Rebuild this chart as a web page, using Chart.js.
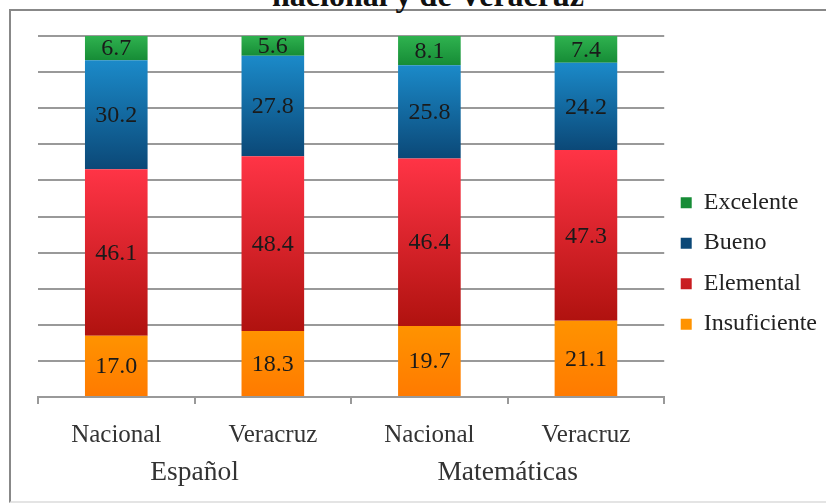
<!DOCTYPE html>
<html>
<head>
<meta charset="utf-8">
<script src="https://cdn.jsdelivr.net/npm/chart.js@4/dist/chart.umd.min.js"></script>
<style>
  html, body { margin: 0; padding: 0; background: #fff; overflow: hidden; }
  #wrap { position: relative; width: 826px; height: 504px; }
  #frame {
    position: absolute; left: 9px; top: 9px; width: 900px; height: 490px;
    border-left: 2px solid #888; border-top: 2px solid #888; border-bottom: 2px solid #e4e4e4;
  }
  #title {
    position: absolute; left: 0; width: 856px; top: -21px; text-align: center;
    font: bold 32px 'Liberation Serif', serif; line-height: 32px; color: #111;
  }
  canvas { position: absolute; left: 0; top: 0; }
</style>
</head>
<body>
<div id="wrap">
  <div id="frame"></div>
  <div id="title">nacional y de Veracruz</div>
  <canvas id="chart" width="826" height="504"></canvas>
</div>
<script>
const categories = ['Nacional', 'Veracruz', 'Nacional', 'Veracruz'];
const groups = ['Español', 'Matemáticas'];
const levels = ['Insuficiente', 'Elemental', 'Bueno', 'Excelente'];

const insuficiente = [17.0, 18.3, 19.7, 21.1];
const elemental = [46.1, 48.4, 46.4, 47.3];
const bueno = [30.2, 27.8, 25.8, 24.2];
const excelente = [6.7, 5.6, 8.1, 7.4];

const yTicks = [0, 10, 20, 30, 40, 50, 60, 70, 80, 90, 100];

// top / bottom colours of each segment gradient, plus the flat legend colour
const palette = [
    { top: '#ff9300', bottom: '#ff7a00', flat: '#ff8a00' },
    { top: '#ff3446', bottom: '#b0120f', flat: '#e0202a' },
    { top: '#1b8ac9', bottom: '#0b4877', flat: '#1568a3' },
    { top: '#2fb24f', bottom: '#168c36', flat: '#1f9e40' }
];

const seriesValues = [insuficiente, elemental, bueno, excelente];

function segmentFill(ctx) {
    const pal = palette[ctx.datasetIndex];
    if (ctx.type !== 'data') return pal.flat;
    const chart = ctx.chart;
    const y = chart.scales.y;
    if (!chart.chartArea || !y) return pal.flat;
    let start = 0;
    for (let i = 0; i < ctx.datasetIndex; i++) start += seriesValues[i][ctx.dataIndex];
    const end = start + seriesValues[ctx.datasetIndex][ctx.dataIndex];
    const yTop = y.getPixelForValue(end);
    const yBot = y.getPixelForValue(start);
    if (!isFinite(yTop) || !isFinite(yBot)) return pal.flat;
    const g = chart.ctx.createLinearGradient(0, yTop, 0, yBot);
    g.addColorStop(0, pal.top);
    g.addColorStop(1, pal.bottom);
    return g;
}

const valueLabels = {
    id: 'valueLabels',
    afterDatasetsDraw(chart) {
        const c = chart.ctx;
        c.save();
        c.font = '24px "Liberation Serif", serif';
        c.fillStyle = '#1a1a1a';
        c.textAlign = 'center';
        c.textBaseline = 'middle';
        chart.data.datasets.forEach((ds, di) => {
            const meta = chart.getDatasetMeta(di);
            meta.data.forEach((bar, i) => {
                const cy = (bar.y + bar.base) / 2;
                c.fillText(ds.data[i].toFixed(1), bar.x, cy + 1);
            });
        });
        c.restore();
    }
};

const serif = '"Liberation Serif", "Times New Roman", serif';

new Chart(document.getElementById('chart').getContext('2d'), {
    type: 'bar',
    data: {
        labels: categories,
        datasets: levels.map((name, i) => ({
            label: name,
            data: seriesValues[i],
            backgroundColor: segmentFill,
            borderWidth: 0,
            barPercentage: 0.4,
            categoryPercentage: 1.0
        }))
    },
    options: {
        responsive: false,
        animation: false,
        layout: { padding: { left: 38, top: 36, right: -1, bottom: 8.5 } },
        plugins: {
            tooltip: { enabled: false },
            legend: {
                position: 'right',
                reverse: true,
                title: { display: true, text: '', font: { size: 1, lineHeight: 1 }, padding: { top: 0, bottom: -5.6 } },
                labels: {
                    boxWidth: 11,
                    boxHeight: 11,
                    padding: 16.5,
                    color: '#222',
                    font: { family: serif, size: 24 }
                }
            }
        },
        scales: {
            x: {
                stacked: true,
                grid: {
                    offset: true,
                    drawOnChartArea: false,
                    drawTicks: true,
                    // long tick length only places the labels; the dash keeps the visible mark short
                    tickLength: 23.5,
                    tickBorderDash: [6, 200],
                    color: '#999',
                    lineWidth: 2
                },
                border: { color: '#999', width: 2 },
                ticks: { color: '#333', padding: 0, font: { family: serif, size: 25 } }
            },
            x2: {
                type: 'category',
                labels: groups,
                position: 'bottom',
                offset: true,
                grid: { display: false, drawTicks: false },
                border: { display: false },
                ticks: { color: '#333', padding: 6, font: { family: serif, size: 27.5 } }
            },
            y: {
                stacked: true,
                min: 0,
                max: 100,
                afterBuildTicks: axis => { axis.ticks = yTicks.map(v => ({ value: v })); },
                ticks: { display: false },
                grid: { color: '#999', lineWidth: 2, drawTicks: false },
                border: { display: false }
            }
        }
    },
    plugins: [valueLabels]
});
</script>
</body>
</html>
